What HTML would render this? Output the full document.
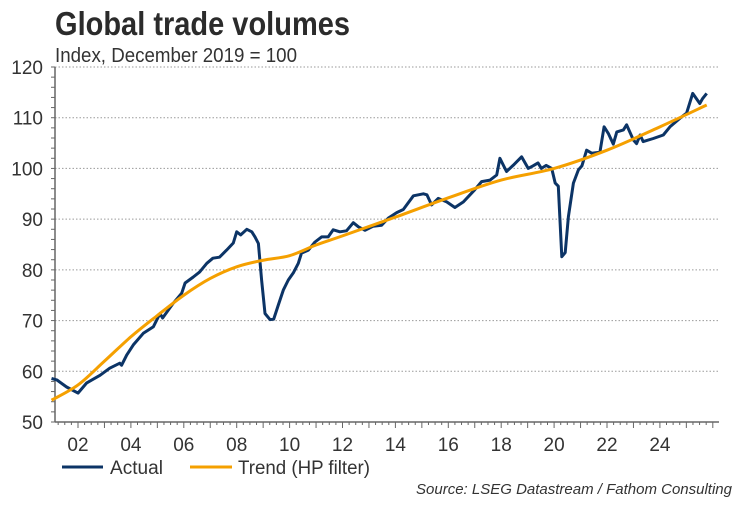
<!DOCTYPE html>
<html><head><meta charset="utf-8"><style>
body{margin:0;background:#fff;}
svg text{font-family:"Liberation Sans",sans-serif;}
</style></head><body>
<svg id="chart" width="750" height="500" viewBox="0 0 750 500">
<text x="55" y="35" font-size="33" font-weight="bold" fill="#2b2b2b" textLength="295" lengthAdjust="spacingAndGlyphs">Global trade volumes</text>
<text x="55" y="62" font-size="20" fill="#333" textLength="242" lengthAdjust="spacingAndGlyphs">Index, December 2019 = 100</text>
<g id="grid"></g><g id="axes"></g><g id="series"></g>
<g>
<line x1="62" y1="467" x2="103" y2="467" stroke="#0c3466" stroke-width="3"/>
<text x="110" y="474" font-size="19" fill="#333" textLength="53" lengthAdjust="spacingAndGlyphs">Actual</text>
<line x1="190" y1="467" x2="232" y2="467" stroke="#f5a000" stroke-width="3"/>
<text x="238" y="474" font-size="19" fill="#333" textLength="132" lengthAdjust="spacingAndGlyphs">Trend (HP filter)</text>
</g>
<text x="732" y="494" font-size="15" font-style="italic" fill="#333" text-anchor="end">Source: LSEG Datastream / Fathom Consulting</text>
</svg>
<script>
const yTicks=[50,60,70,80,90,100,110,120];
const xTickYears=[2002,2004,2006,2008,2010,2012,2014,2016,2018,2020,2022,2024];
const xTickLabels=["02","04","06","08","10","12","14","16","18","20","22","24"];
const actualT=[2001.0,2001.2,2001.57,2002.0,2002.33,2002.83,2003.2,2003.58,2003.65,2003.84,2004.09,2004.47,2004.85,2005.1,2005.2,2005.6,2005.92,2006.05,2006.36,2006.6,2006.87,2007.1,2007.35,2007.62,2007.87,2008.0,2008.15,2008.38,2008.57,2008.69,2008.82,2008.94,2009.07,2009.26,2009.4,2009.57,2009.76,2009.95,2010.14,2010.33,2010.45,2010.71,2010.96,2011.21,2011.46,2011.65,2011.9,2012.15,2012.41,2012.6,2012.85,2013.16,2013.48,2013.73,2014.05,2014.3,2014.68,2015.06,2015.19,2015.37,2015.62,2015.94,2016.25,2016.57,2016.82,2017.0,2017.26,2017.58,2017.83,2017.95,2018.2,2018.45,2018.77,2019.02,2019.2,2019.39,2019.52,2019.7,2019.91,2020.04,2020.16,2020.29,2020.42,2020.54,2020.73,2020.92,2021.05,2021.23,2021.42,2021.73,2021.89,2022.05,2022.24,2022.37,2022.62,2022.74,2023.0,2023.12,2023.25,2023.37,2023.75,2024.13,2024.38,2024.76,2025.01,2025.24,2025.51,2025.62,2025.77];
const actualV=[58.6,58.3,56.9,55.7,57.7,59.2,60.6,61.6,61.2,63.2,65.2,67.5,68.8,71.4,70.5,73.4,75.4,77.4,78.6,79.6,81.3,82.3,82.5,83.9,85.3,87.5,86.9,88.0,87.5,86.5,85.2,78,71.4,70.2,70.3,73,76,78,79.4,81.3,83.3,83.9,85.5,86.5,86.5,87.9,87.5,87.7,89.3,88.5,87.8,88.6,88.8,90.2,91.3,91.9,94.6,95.0,94.8,92.8,94.1,93.4,92.3,93.4,94.8,95.8,97.4,97.7,98.7,102,99.4,100.6,102.3,100.0,100.5,101.1,100.0,100.6,100.0,97.1,96.5,82.6,83.4,90.5,97.1,99.7,100.5,103.6,103.0,103.2,108.2,106.9,104.8,107.2,107.6,108.6,105.6,104.9,106.6,105.3,105.9,106.6,108.2,109.9,110.9,114.8,112.8,113.8,114.8];
const trendT=[2001.0,2002,2003,2004,2005,2006,2007,2008,2009,2010,2011,2012,2014,2016,2018,2020,2022,2024,2025.77];
const trendV=[54.3,57.3,62,66.8,71,75,78.3,80.6,81.9,82.8,84.9,86.7,90.4,94.2,97.7,100,103.6,108.2,112.5];

const X0=55,X1=719,Y0=422,Y1=67;
const xs=t=>78+(t-2002)*26.45;
const ys=v=>Y0-(v-50)*(Y0-Y1)/70;
const NS="http://www.w3.org/2000/svg";
function mk(tag,attrs,parent,txt){const e=document.createElementNS(NS,tag);for(const k in attrs)e.setAttribute(k,attrs[k]);if(txt!==undefined)e.textContent=txt;document.getElementById(parent).appendChild(e);return e;}

yTicks.forEach(v=>{
  if(v>50){const g=mk('line',{x1:X0,x2:X1,y1:ys(v),y2:ys(v),stroke:'#9a9a9a','stroke-width':1,'stroke-dasharray':'1.5,2'},'grid');
  
  }
  const l=mk('text',{x:43,y:ys(v)+7,'font-size':19,fill:'#333','text-anchor':'end'},'axes',String(v));
  
  
});
for(let v=50;v<=120;v+=2){mk('line',{x1:X0-4,x2:X0,y1:ys(v),y2:ys(v),stroke:'#666','stroke-width':1},'axes');}
const ya=mk('line',{x1:X0,x2:X0,y1:Y1,y2:Y0,stroke:'#666','stroke-width':1.5},'axes');


const xa=mk('line',{x1:X0,x2:X1,y1:Y0,y2:Y0,stroke:'#666','stroke-width':1.5},'axes');


for(let t=2001.25;t<=2026.25;t+=0.25){const x=xs(t);if(x<X0||x>X1)continue;const major=Math.abs(t-Math.round(t))<0.01;mk('line',{x1:x,x2:x,y1:Y0,y2:Y0+(major?6:3),stroke:'#666','stroke-width':1},'axes');}
xTickYears.forEach((t,i)=>{
  const l=mk('text',{x:xs(t),y:451,'font-size':19,fill:'#333','text-anchor':'middle'},'axes',xTickLabels[i]);
  
  
});
function pathD(T,V){return T.map((t,i)=>(i?'L':'M')+xs(t).toFixed(1)+','+ys(V[i]).toFixed(1)).join(' ');}
function smoothD(T,V){let d='M'+xs(T[0])+','+ys(V[0]);for(let i=0;i<T.length-1;i++){const p0=[xs(T[Math.max(i-1,0)]),ys(V[Math.max(i-1,0)])],p1=[xs(T[i]),ys(V[i])],p2=[xs(T[i+1]),ys(V[i+1])],p3=[xs(T[Math.min(i+2,T.length-1)]),ys(V[Math.min(i+2,T.length-1)])];d+=` C${p1[0]+(p2[0]-p0[0])/6},${p1[1]+(p2[1]-p0[1])/6} ${p2[0]-(p3[0]-p1[0])/6},${p2[1]-(p3[1]-p1[1])/6} ${p2[0]},${p2[1]}`;}return d;}
const tr=mk('path',{d:smoothD(trendT,trendV),fill:'none',stroke:'#f5a000','stroke-width':3},'series');


const ac=mk('path',{d:pathD(actualT,actualV),fill:'none',stroke:'#0c3466','stroke-width':3,'stroke-linejoin':'round'},'series');


document.getElementById('series').insertBefore(ac,tr);
</script>
</body></html>
